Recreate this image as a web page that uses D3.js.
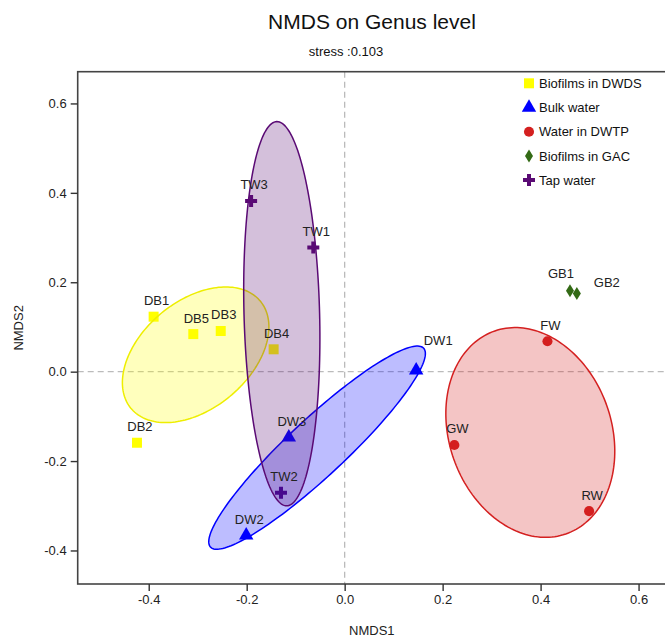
<!DOCTYPE html>
<html>
<head>
<meta charset="utf-8">
<script src="https://cdn.jsdelivr.net/npm/d3@7"></script>
<style>
  body { margin: 0; background: #fff; }
  svg { font-family: "Liberation Sans", Arial, sans-serif; }
</style>
</head>
<body>
<div id="chart"></div>
<script>
// ─── NMDS scatter with group ellipses ───

const groups = ["Biofilms in DWDS", "Bulk water", "Water in DWTP", "Biofilms in GAC", "Tap water"];
const groupColors = ["#ffff00", "#0000ff", "#d42020", "#336a15", "#5a0a74"];
const groupShapes = ["square", "triangle", "circle", "diamond", "plus"];

const sampleNames = ["DB1", "DB2", "DB3", "DB4", "DB5", "DW1", "DW2", "DW3", "FW", "GW", "RW", "GB1", "GB2", "TW1", "TW2", "TW3"];
const sampleGroup = [0, 0, 0, 0, 0, 1, 1, 1, 2, 2, 2, 3, 3, 4, 4, 4];
const nmds1 = [-0.390, -0.424, -0.253, -0.145, -0.309, 0.146, -0.201, -0.114, 0.414, 0.224, 0.499, 0.460, 0.474, -0.064, -0.130, -0.191];
const nmds2 = [0.123, -0.159, 0.091, 0.050, 0.084, 0.003, -0.366, -0.147, 0.068, -0.164, -0.312, 0.181, 0.175, 0.278, -0.271, 0.382];

const xTicks = [-0.4, -0.2, 0.0, 0.2, 0.4, 0.6];
const xTickLabels = ["-0.4", "-0.2", "0.0", "0.2", "0.4", "0.6"];
const yTicks = [-0.4, -0.2, 0.0, 0.2, 0.4, 0.6];
const yTickLabels = ["-0.4", "-0.2", "0.0", "0.2", "0.4", "0.6"];

// label nudges (px) for the few labels that were moved off the default spot
const labelNudge = { DW1: [22, -30], GB1: [-9, -17], GB2: [30, -11] };

(function () {
  const W = 665, H = 640;
  const mLeft = 77.7, mRight = 666, mTop = 71.7, mBottom = 584;

  const svg = d3.select('#chart').append('svg').attr('width', W).attr('height', H);

  const x = d3.scaleLinear().domain([-0.545, 0.656]).range([mLeft, mRight]);
  const y = d3.scaleLinear().domain([-0.475, 0.671]).range([mBottom, mTop]);

  // titles
  svg.append('text').attr('x', 372).attr('y', 29).attr('text-anchor', 'middle')
    .attr('font-size', 21).attr('fill', '#111').text('NMDS on Genus level');
  svg.append('text').attr('x', 346).attr('y', 56).attr('text-anchor', 'middle')
    .attr('font-size', 13).attr('fill', '#111').text('stress :0.103');

  // zero reference lines
  const plot = svg.append('g');
  plot.append('line').attr('x1', x(0)).attr('x2', x(0)).attr('y1', mTop).attr('y2', mBottom)
    .attr('stroke', '#bbb').attr('stroke-width', 1.3).attr('stroke-dasharray', '6,4');
  plot.append('line').attr('x1', mLeft).attr('x2', mRight).attr('y1', y(0)).attr('y2', y(0))
    .attr('stroke', '#bbb').attr('stroke-width', 1.3).attr('stroke-dasharray', '6,4');

  // markers
  function symbolPath(shape) {
    if (shape === 'diamond') return 'M0,-6.5L4,0L0,6.5L-4,0Z';
    const type = { square: d3.symbolSquare, triangle: d3.symbolTriangle, circle: d3.symbolCircle, plus: d3.symbolCross }[shape];
    const size = { square: 100, triangle: 90, circle: 80, plus: 80 }[shape];
    return d3.symbol().type(type).size(size)();
  }

  const samples = sampleNames.map((n, i) => ({ name: n, g: sampleGroup[i], x: nmds1[i], y: nmds2[i] }));

  plot.selectAll('path.pt').data(samples).enter().append('path')
    .attr('class', 'pt')
    .attr('d', d => symbolPath(groupShapes[d.g]))
    .attr('transform', d => `translate(${x(d.x)},${y(d.y)})`)
    .attr('fill', d => groupColors[d.g]);

  // ellipses: centroid + 1.5 * sqrt of (population) covariance, groups with 3+ samples
  function ellipsePoints(pts, k) {
    const n = pts.length;
    const mx = d3.mean(pts, p => p.x), my = d3.mean(pts, p => p.y);
    const sxx = d3.sum(pts, p => (p.x - mx) ** 2) / n;
    const syy = d3.sum(pts, p => (p.y - my) ** 2) / n;
    const sxy = d3.sum(pts, p => (p.x - mx) * (p.y - my)) / n;
    const tr = (sxx + syy) / 2, dd = Math.sqrt(((sxx - syy) / 2) ** 2 + sxy ** 2);
    const l1 = tr + dd, l2 = Math.max(tr - dd, 0);
    const th = Math.atan2(l1 - sxx, sxy || 1e-12);
    const a = Math.sqrt(l1) * k, b = Math.sqrt(l2) * k;
    return d3.range(0, 2 * Math.PI, Math.PI / 90).map(t => {
      const u = a * Math.cos(t), v = b * Math.sin(t);
      return [mx + u * Math.cos(th) - v * Math.sin(th), my + u * Math.sin(th) + v * Math.cos(th)];
    });
  }

  const line = d3.line().x(d => x(d[0])).y(d => y(d[1])).curve(d3.curveLinearClosed);

  groups.forEach((g, gi) => {
    const pts = samples.filter(s => s.g === gi);
    if (pts.length < 3) return;
    plot.append('path')
      .attr('d', line(ellipsePoints(pts, 1.5)))
      .attr('fill', groupColors[gi]).attr('fill-opacity', 0.26)
      .attr('stroke', gi === 0 ? '#eeee00' : groupColors[gi]).attr('stroke-width', 1.5);
  });

  // sample labels
  plot.selectAll('text.lab').data(samples).enter().append('text')
    .attr('class', 'lab')
    .attr('x', d => x(d.x) + (labelNudge[d.name] ? labelNudge[d.name][0] : 3))
    .attr('y', d => y(d.y) + (labelNudge[d.name] ? labelNudge[d.name][1] : -16) + 4.5)
    .attr('text-anchor', 'middle').attr('font-size', 13).attr('fill', '#222')
    .text(d => d.name);

  // frame + axes
  svg.append('rect').attr('x', mLeft).attr('y', mTop).attr('width', mRight - mLeft).attr('height', mBottom - mTop)
    .attr('fill', 'none').attr('stroke', '#444').attr('stroke-width', 1.6);

  const xAxis = svg.append('g').attr('transform', `translate(0,${mBottom})`)
    .call(d3.axisBottom(x).tickValues(xTicks).tickFormat((d, i) => xTickLabels[i]).tickSize(7).tickPadding(4));
  const yAxis = svg.append('g').attr('transform', `translate(${mLeft},0)`)
    .call(d3.axisLeft(y).tickValues(yTicks).tickFormat((d, i) => yTickLabels[i]).tickSize(7).tickPadding(4));
  [xAxis, yAxis].forEach(a => {
    a.select('.domain').remove();
    a.selectAll('line').attr('stroke', '#333').attr('stroke-width', 1.4);
    a.selectAll('text').attr('font-size', 13).attr('fill', '#222')
      .attr('font-family', '"Liberation Sans", Arial, sans-serif');
  });

  svg.append('text').attr('x', (mLeft + mRight) / 2).attr('y', 635).attr('text-anchor', 'middle')
    .attr('font-size', 13).attr('fill', '#222').text('NMDS1');
  svg.append('text').attr('transform', `translate(23,${(mTop + mBottom) / 2}) rotate(-90)`)
    .attr('text-anchor', 'middle').attr('font-size', 13).attr('fill', '#222').text('NMDS2');

  // legend
  const legend = svg.append('g').attr('transform', 'translate(529,83.3)');
  groups.forEach((g, i) => {
    const row = legend.append('g').attr('transform', `translate(0,${i * 24.2})`);
    row.append('path').attr('d', symbolPath(groupShapes[i])).attr('fill', groupColors[i]);
    row.append('text').attr('x', 10).attr('y', 4.6).attr('font-size', 13).attr('fill', '#111').text(g);
  });
})();
</script>
</body>
</html>
